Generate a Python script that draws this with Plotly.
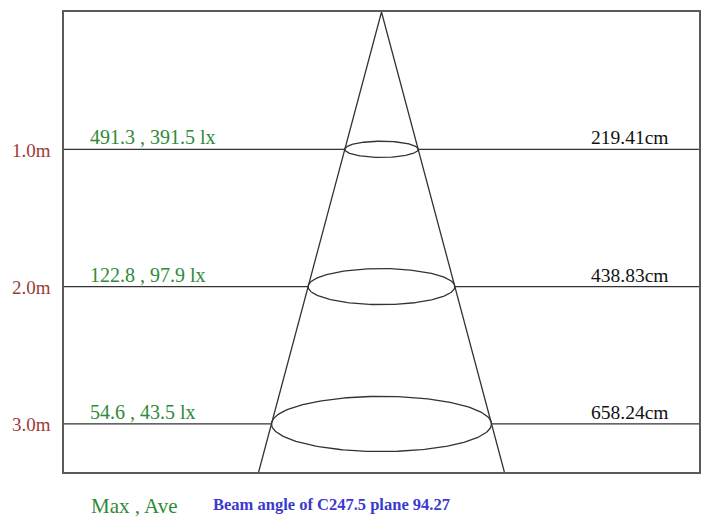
import numpy as np
import plotly.graph_objects as go

# ---- data ----
heights = [1.0, 2.0, 3.0]                 # distance (m)
height_labels = ["1.0m", "2.0m", "3.0m"]
max_lux = [491.3, 122.8, 54.6]
ave_lux = [391.5, 97.9, 43.5]
diameters_cm = [219.41, 438.83, 658.24]
beam_angle = 94.27
c_plane = "C247.5"

# ---- drawing geometry (diagram units, 1 unit = 1 m of depth) ----
spread = 0.268          # drawn half-width per unit depth
ell_ratio = [0.22, 0.245, 0.25]
x_half = 2.32
y_bottom = 3.35

fig = go.Figure()
line_col = "#333333"
serif = "Liberation Serif"

# cone sides
fig.add_trace(go.Scatter(x=[-spread * y_bottom, 0, spread * y_bottom],
                         y=[y_bottom, 0, y_bottom], mode="lines",
                         line=dict(color=line_col, width=1.3), hoverinfo="skip"))

for i, h in enumerate(heights):
    rx = spread * h
    ry = rx * ell_ratio[i]
    t = np.linspace(0, 2 * np.pi, 200)
    fig.add_trace(go.Scatter(x=rx * np.cos(t), y=h + ry * np.sin(t), mode="lines",
                             line=dict(color=line_col, width=1.3), hoverinfo="skip"))
    fig.add_trace(go.Scatter(x=[-x_half, -rx, None, rx, x_half], y=[h, h, None, h, h],
                             mode="lines", line=dict(color=line_col, width=1.3),
                             hoverinfo="skip"))
    fig.add_annotation(x=-2.145, y=h, xref="x", yref="y", xanchor="left", yanchor="bottom",
                       text=f"{max_lux[i]} , {ave_lux[i]} lx", showarrow=False, yshift=-1,
                       font=dict(family=serif, size=20, color="#2e8b3a"))
    fig.add_annotation(x=2.11, y=h, xref="x", yref="y", xanchor="right", yanchor="bottom",
                       text=f"{diameters_cm[i]}cm", showarrow=False, yshift=-1,
                       font=dict(family=serif, size=19.5, color="#111111"))
    fig.add_annotation(x=-0.017, y=h, xref="paper", yref="y", xanchor="right", yanchor="middle",
                       text=height_labels[i], showarrow=False, yshift=-1,
                       font=dict(family=serif, size=19, color="#9c3b3b"))

fig.add_annotation(x=0.04, y=-0.074, xref="paper", yref="paper", xanchor="left", yanchor="middle",
                   showarrow=False, text="Max , Ave",
                   font=dict(family=serif, size=21, color="#2e8b3a"))
fig.add_annotation(x=0.231, y=-0.071, xref="paper", yref="paper", xanchor="left", yanchor="middle",
                   showarrow=False, text=f"<b>Beam angle of {c_plane} plane {beam_angle}</b>",
                   font=dict(family=serif, size=16.5, color="#3a3ad0"))

fig.update_layout(
    width=704, height=517,
    margin=dict(l=64, r=3, t=12, b=45),
    paper_bgcolor="white", plot_bgcolor="white",
    showlegend=False,
    xaxis=dict(range=[-x_half, x_half], showgrid=False, zeroline=False,
               showticklabels=False, ticks="", showline=True, mirror=True,
               linecolor="#5a5a5a", linewidth=1.8),
    yaxis=dict(range=[y_bottom, 0], showgrid=False, zeroline=False,
               showticklabels=False, ticks="", showline=True, mirror=True,
               linecolor="#5a5a5a", linewidth=1.8),
)

fig.write_html("out.html", config={"displayModeBar": False},
               post_script="document.body.style.margin='0';")
